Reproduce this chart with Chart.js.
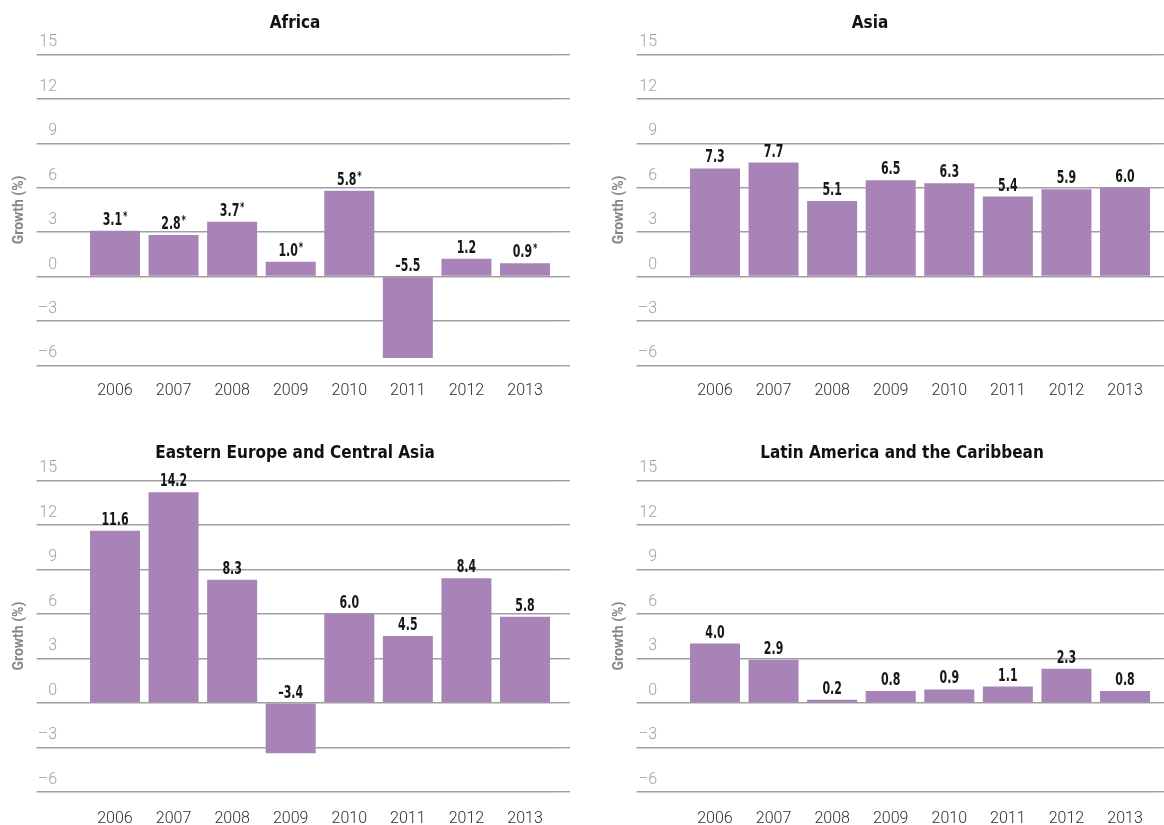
<!DOCTYPE html>
<html>
<head>
<meta charset="utf-8">
<title>Growth by region, 2006–2013</title>
<script src="https://cdn.jsdelivr.net/npm/chart.js@4.4.1/dist/chart.umd.min.js"></script>
<style>
  html, body { margin: 0; padding: 0; background: #fff; width: 1164px; height: 825px; overflow: hidden; }
  .panel { position: absolute; }
  .panel canvas { display: block; }
</style>
</head>
<body>
<div class="panel" id="panel-africa"><canvas id="chart-africa"></canvas></div>
<div class="panel" id="panel-asia"><canvas id="chart-asia"></canvas></div>
<div class="panel" id="panel-eeca"><canvas id="chart-eeca"></canvas></div>
<div class="panel" id="panel-lac"><canvas id="chart-lac"></canvas></div>
<script>
// ---- data ----
const years = ['2006', '2007', '2008', '2009', '2010', '2011', '2012', '2013'];

const africaGrowth = [3.1, 2.8, 3.7, 1.0, 5.8, -5.5, 1.2, 0.9];
const africaEstimated = [true, true, true, true, true, false, false, true]; // marked with *

const asiaGrowth = [7.3, 7.7, 5.1, 6.5, 6.3, 5.4, 5.9, 6.0];

const easternEuropeGrowth = [11.6, 14.2, 8.3, -3.4, 6.0, 4.5, 8.4, 5.8];

const latinAmericaGrowth = [4.0, 2.9, 0.2, 0.8, 0.9, 1.1, 2.3, 0.8];

const yMin = -6;
const yMax = 15;
const yStep = 3;

// ---- styling ----
const BAR_COLOR = '#a883b8';
const GRID_COLOR = '#a0a0a0';
const NARROW = "'Liberation Sans Narrow', 'DejaVu Sans Condensed', 'Roboto', sans-serif";
const PLAIN = "'Roboto', 'Liberation Sans', sans-serif";

// value labels above each bar (negative bars get theirs above the zero line);
// drawn horizontally squeezed to get a tall, condensed look
const valueLabels = {
  id: 'valueLabels',
  afterDatasetsDraw(chart, args, opts) {
    const ctx = chart.ctx;
    const ds = chart.data.datasets[0];
    const meta = chart.getDatasetMeta(0);
    const squeeze = 0.72;
    const mainFont = 'bold 17px ' + NARROW;
    const starFont = 'bold 13px ' + NARROW;
    ctx.save();
    ctx.fillStyle = '#161616';
    ctx.textBaseline = 'alphabetic';
    ctx.textAlign = 'left';
    meta.data.forEach((bar, i) => {
      const v = ds.data[i];
      const txt = (v < 0 ? '\u2013' : '') + Math.abs(v).toFixed(1);
      const star = opts.stars && opts.stars[i];
      ctx.font = mainFont;
      const w1 = ctx.measureText(txt).width;
      ctx.font = starFont;
      const w2 = star ? ctx.measureText('*').width + 1 : 0;
      const baseline = Math.min(bar.y, bar.base) - 6;
      ctx.save();
      ctx.translate(bar.x, baseline);
      ctx.scale(squeeze, 1);
      const x0 = -(w1 + w2) / 2;
      ctx.font = mainFont;
      ctx.fillText(txt, x0, 0);
      if (star) {
        ctx.font = starFont;
        ctx.fillText('*', x0 + w1 + 1, -5);
      }
      ctx.restore();
    });
    ctx.restore();
  }
};

// panel frames on the page
const panels = [
  { canvas: 'chart-africa', box: 'panel-africa', title: 'Africa', values: africaGrowth, stars: africaEstimated,
    left: 0, top: 0, width: 570, height: 412, titleCenter: 295, titleTop: 13, titleBottom: 21, tickPad: 16, padBottom: -4.6 },
  { canvas: 'chart-asia', box: 'panel-asia', title: 'Asia', values: asiaGrowth, stars: null,
    left: 600, top: 0, width: 564, height: 412, titleCenter: 870, titleTop: 13, titleBottom: 21, tickPad: 16, padBottom: -4.6 },
  { canvas: 'chart-eeca', box: 'panel-eeca', title: 'Eastern Europe and Central Asia', values: easternEuropeGrowth, stars: null,
    left: 0, top: 426, width: 570, height: 415, titleCenter: 295, titleTop: 17, titleBottom: 17, tickPad: 18, padBottom: -6 },
  { canvas: 'chart-lac', box: 'panel-lac', title: 'Latin America and the Caribbean', values: latinAmericaGrowth, stars: null,
    left: 600, top: 426, width: 564, height: 415, titleCenter: 902, titleTop: 17, titleBottom: 17, tickPad: 18, padBottom: -6 }
];

const PLOT_LEFT = 85.7;   // left edge of the bar area inside each panel
const PLOT_RIGHT = 554.3; // right edge of the bar area inside each panel

panels.forEach(p => {
  const box = document.getElementById(p.box);
  box.style.left = p.left + 'px';
  box.style.top = p.top + 'px';
  const cv = document.getElementById(p.canvas);
  cv.width = p.width;
  cv.height = p.height;

  const padL = 2 * (p.titleCenter - p.left) - p.width;
  const yAxisWidth = PLOT_LEFT - padL;
  const rightTick = p.width - PLOT_RIGHT;
  const yTitleFontSize = 14;
  const yTitlePadTop = 19 - padL - yTitleFontSize * 1.2 / 2;

  new Chart(cv, {
    type: 'bar',
    data: {
      labels: years,
      datasets: [{
        data: p.values,
        backgroundColor: BAR_COLOR,
        borderWidth: 0,
        categoryPercentage: 1.0,
        barPercentage: 0.854
      }]
    },
    options: {
      responsive: false,
      animation: false,
      layout: { padding: { left: padL, right: 0, top: 0, bottom: p.padBottom } },
      plugins: {
        legend: { display: false },
        tooltip: { enabled: false },
        title: {
          display: true,
          text: p.title,
          color: '#111',
          font: { family: NARROW, size: 17, weight: 'bold', lineHeight: 1.2 },
          padding: { top: p.titleTop, bottom: p.titleBottom }
        },
        valueLabels: { stars: p.stars }
      },
      scales: {
        x: {
          grid: { display: false, drawTicks: false },
          border: { display: false },
          ticks: {
            color: '#2e2e2e',
            padding: p.tickPad,
            font: { family: PLAIN, size: 16, weight: '300', lineHeight: 1.2 }
          }
        },
        y: {
          min: yMin,
          max: yMax,
          afterFit(scale) { scale.width = yAxisWidth; },
          grid: { color: GRID_COLOR, lineWidth: 1.4, tickLength: 49, drawTicks: true },
          border: { display: false },
          ticks: {
            stepSize: yStep,
            color: '#a0a0a0',
            padding: -20.3,
            labelOffset: -12,
            crossAlign: 'near',
            font: { family: PLAIN, size: 16, weight: '300' },
            callback: v => (v < 0 ? '\u2013' + Math.abs(v) : String(v))
          },
          title: {
            display: true,
            text: 'Growth (%)',
            color: '#858585',
            font: { family: PLAIN, size: yTitleFontSize, weight: 'bold', lineHeight: 1.2 },
            padding: { top: yTitlePadTop, bottom: 0 }
          }
        },
        y2: {
          position: 'right',
          min: yMin,
          max: yMax,
          afterFit(scale) { scale.width = rightTick; },
          grid: { color: GRID_COLOR, lineWidth: 1.4, tickLength: rightTick, drawOnChartArea: false, drawTicks: true },
          border: { display: false },
          ticks: { stepSize: yStep, display: false }
        }
      }
    },
    plugins: [valueLabels]
  });
});
</script>
</body>
</html>
